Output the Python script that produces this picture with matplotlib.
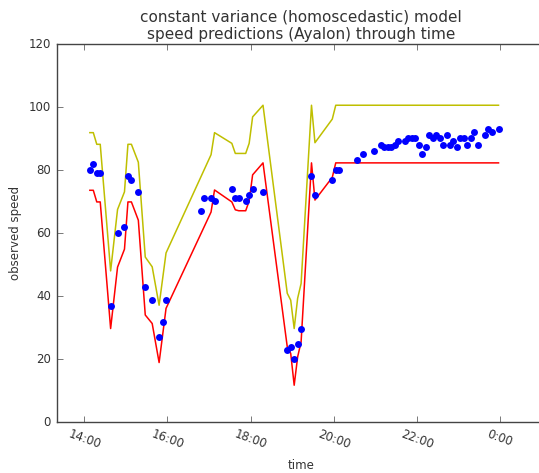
import datetime
import matplotlib
matplotlib.use('Agg')
import matplotlib.pyplot as plt
import matplotlib.dates as mdates
from matplotlib.ticker import FuncFormatter
matplotlib.style.use('classic')

# observed speeds (blue dots)
obs_times = ['14:08', '14:13', '14:18', '14:23', '14:38', '14:48', '14:58', '15:03',
             '15:08', '15:18', '15:28', '15:38', '15:48', '15:53', '15:58', '16:48',
             '16:53', '17:03', '17:08', '17:33', '17:38', '17:43', '17:53', '17:58',
             '18:03', '18:18', '18:53', '18:58', '19:03', '19:08', '19:13', '19:28',
             '19:33', '19:58', '20:03', '20:08', '20:33', '20:43', '20:58', '21:08',
             '21:13', '21:18', '21:23', '21:28', '21:33', '21:43', '21:48', '21:53',
             '21:58', '22:03', '22:08', '22:13', '22:18', '22:23', '22:28', '22:33',
             '22:38', '22:43', '22:48', '22:53', '22:58', '23:03', '23:08', '23:13',
             '23:18', '23:23', '23:28', '23:38', '23:43', '23:48', '23:58']
obs_speed = [80.1, 82.2, 79.2, 79.2, 37.0, 60.0, 62.1, 78.2,
             77.1, 73.1, 43.0, 39.0, 27.0, 31.9, 39.0, 67.2,
             71.1, 71.1, 70.2, 74.2, 71.1, 71.1, 70.2, 72.2,
             74.2, 73.1, 23.0, 24.0, 20.0, 24.9, 29.8, 78.2,
             72.2, 77.1, 80.1, 80.1, 83.3, 85.2, 86.2, 88.2,
             87.3, 87.3, 87.3, 88.2, 89.3, 89.3, 90.3, 90.3,
             90.3, 88.2, 85.2, 87.3, 91.3, 90.3, 91.3, 90.3,
             88.2, 91.3, 88.2, 89.3, 87.3, 90.3, 90.3, 88.2,
             90.3, 92.3, 88.2, 91.3, 93.3, 92.3, 93.3]

# prediction band (red = lower, yellow = upper)
band_times = ['14:08', '14:13', '14:18', '14:23', '14:38', '14:48', '14:58', '15:03',
              '15:08', '15:18', '15:28', '15:38', '15:48', '15:58', '17:03', '17:08',
              '17:33', '17:38', '17:43', '17:53', '17:58', '18:03', '18:18', '18:53',
              '18:58', '19:03', '19:08', '19:13', '19:28', '19:33', '19:58', '20:03',
              '23:58']
band_lower = [73.7, 73.7, 70.0, 70.0, 29.8, 49.3, 55.0, 70.0,
              70.0, 64.2, 34.1, 31.4, 19.0, 36.2, 66.8, 73.8,
              70.0, 67.5, 67.2, 67.2, 70.3, 78.6, 82.4, 24.0,
              21.9, 11.8, 20.8, 25.6, 82.4, 70.6, 77.8, 82.4,
              82.4]
band_upper = [92.0, 92.0, 88.3, 88.3, 48.1, 67.6, 73.2, 88.3,
              88.3, 82.6, 52.5, 49.4, 37.2, 53.8, 85.0, 92.0,
              88.6, 85.4, 85.4, 85.4, 88.6, 97.0, 100.7, 41.0,
              38.8, 29.8, 39.4, 44.1, 100.7, 88.8, 96.3, 100.7,
              100.7]


def to_dt(hhmm) :
    h, m = map(int, hhmm.split(':'))
    return datetime.datetime(2013, 1, 1) + datetime.timedelta(hours=h, minutes=m)


def hour_label(x, pos) :
    d = mdates.num2date(x)
    return f"{d.hour}:{d.minute:02d}"


txt = '#333333'
fig = plt.figure(figsize=(5.39, 4.73), dpi=100, facecolor='white')
ax = fig.add_axes([0.105, 0.107, 0.906, 0.799])

ax.plot([to_dt(t) for t in band_times], band_lower, color='r', lw=1.1)
ax.plot([to_dt(t) for t in band_times], band_upper, color='y', lw=1.1)
ax.plot([to_dt(t) for t in obs_times], obs_speed, 'o', color='b', mec='b', ms=5, mew=0)

ax.set_xlim(to_dt('13:20'), to_dt('13:20') + datetime.timedelta(hours=11, minutes=45))
ax.set_ylim(0, 120)
ax.xaxis.set_major_locator(mdates.HourLocator(byhour=range(0, 24, 2)))
ax.xaxis.set_major_formatter(FuncFormatter(hour_label))
ax.tick_params(labelsize=8.5, colors='#444444', labelcolor=txt)
for lab in ax.get_xticklabels() :
    lab.set_rotation(-20)
    lab.set_ha('center')
for s in ax.spines.values() :
    s.set_color('#444444')

ax.set_xlabel('time', fontsize=8.5, color=txt)
ax.set_ylabel('observed speed', fontsize=8.5, color=txt)
ax.set_title('constant variance (homoscedastic) model\nspeed predictions (Ayalon) through time',
             fontsize=11, color=txt, pad=4)

plt.savefig('out.png', dpi=100, facecolor='white')
